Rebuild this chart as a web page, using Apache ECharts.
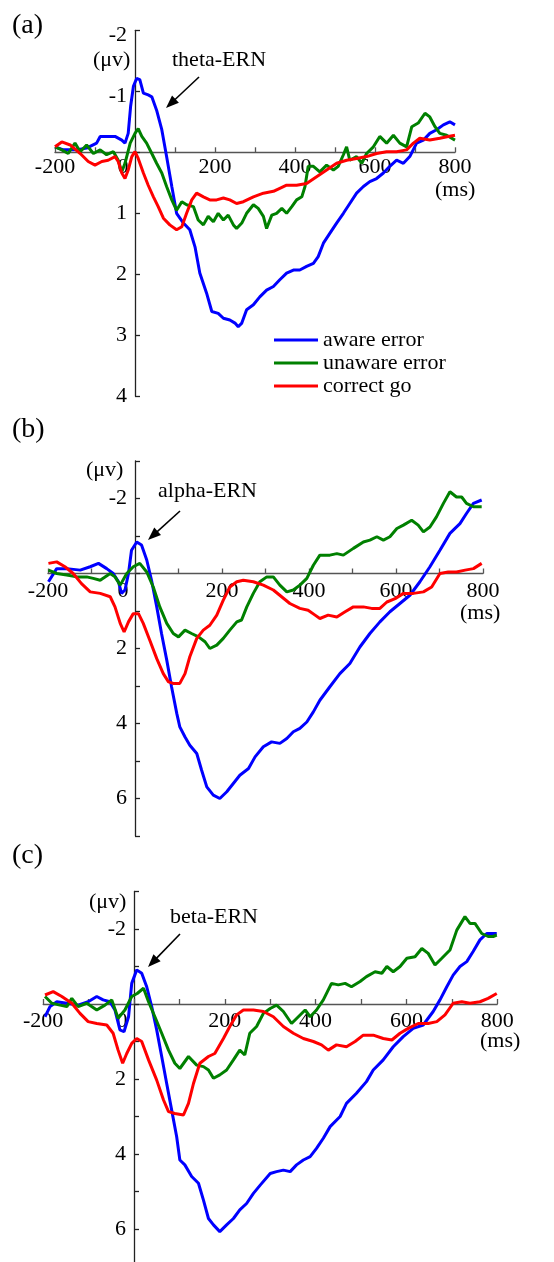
<!DOCTYPE html>
<html>
<head>
<meta charset="utf-8">
<script src="https://cdn.jsdelivr.net/npm/echarts@6/dist/echarts.min.js"></script>
<style>
html,body{margin:0;padding:0;background:#fff;}
#chart{width:554px;height:1262px;}
</style>
</head>
<body>
<div id="chart"></div>
<script>
// ---------- data (time ms, amplitude µV) ----------
const seriesNames = ['aware error', 'unaware error', 'correct go'];
const xTickLabels = [-200, 0, 200, 400, 600, 800];
const yTickLabelsA = [-2, -1, 1, 2, 3, 4];
const yTickLabelsBC = [-2, 2, 4, 6];

// Panel (a) theta
const thetaAware = [[-200,-0.09],[-179,-0.04],[-146,-0.04],[-121,-0.07],[-96,-0.15],[-87,-0.26],[-71,-0.26],[-50,-0.26],[-33,-0.2],[-25,-0.15],[-17,-0.31],[-11,-0.75],[-4,-1.08],[4,-1.21],[12,-1.19],[21,-0.97],[33,-0.94],[42,-0.91],[54,-0.69],[67,-0.37],[79,0.07],[92,0.56],[104,1.0],[121,1.16],[137,1.27],[150,1.55],[162,1.98],[179,2.31],[192,2.61],[208,2.64],[221,2.72],[237,2.75],[250,2.8],[258,2.86],[267,2.8],[279,2.58],[296,2.5],[312,2.37],[329,2.26],[346,2.2],[362,2.09],[379,1.98],[396,1.93],[412,1.93],[429,1.87],[446,1.82],[458,1.71],[471,1.49],[487,1.33],[504,1.16],[521,1.0],[537,0.84],[554,0.67],[571,0.56],[587,0.48],[604,0.43],[621,0.34],[637,0.23],[654,0.13],[671,0.18],[687,0.07],[704,-0.15],[721,-0.2],[737,-0.31],[754,-0.37],[771,-0.45],[787,-0.5],[800,-0.45]];
const thetaUnaware = [[-200,-0.09],[-183,-0.04],[-167,0.02],[-150,-0.15],[-137,-0.01],[-121,-0.12],[-104,0.02],[-87,-0.04],[-71,0.04],[-54,-0.01],[-42,0.13],[-33,0.32],[-25,0.18],[-12,-0.15],[0,-0.31],[8,-0.39],[17,-0.26],[29,-0.15],[42,0.02],[54,0.18],[67,0.34],[79,0.56],[92,0.78],[104,0.95],[117,0.81],[129,0.86],[146,0.89],[158,1.11],[171,1.19],[183,1.05],[196,1.14],[208,1.0],[221,1.11],[233,1.03],[246,1.19],[254,1.25],[267,1.16],[279,1.0],[296,0.86],[308,0.92],[321,1.05],[329,1.25],[342,1.03],[354,1.0],[367,0.92],[379,1.0],[392,0.89],[404,0.78],[417,0.73],[425,0.56],[433,0.23],[446,0.23],[462,0.32],[479,0.21],[496,0.29],[508,0.23],[521,0.04],[529,-0.09],[537,0.13],[554,0.07],[567,0.18],[579,0.02],[596,-0.09],[612,-0.26],[629,-0.15],[646,-0.28],[662,-0.15],[679,-0.09],[692,-0.42],[708,-0.48],[725,-0.64],[737,-0.58],[750,-0.42],[762,-0.31],[779,-0.28],[800,-0.2]];
const thetaCorrect = [[-200,-0.09],[-183,-0.17],[-162,-0.12],[-137,0.02],[-117,0.15],[-100,0.21],[-83,0.15],[-67,0.13],[-50,0.07],[-42,0.15],[-33,0.34],[-25,0.43],[-17,0.29],[-8,0.07],[0,-0.01],[8,0.1],[21,0.34],[33,0.54],[46,0.73],[58,0.89],[71,1.08],[87,1.19],[104,1.27],[117,1.22],[129,1.0],[142,0.78],[154,0.67],[171,0.73],[187,0.78],[204,0.78],[221,0.75],[237,0.78],[254,0.84],[271,0.81],[296,0.73],[321,0.67],[346,0.64],[362,0.59],[379,0.54],[404,0.54],[429,0.51],[454,0.4],[479,0.29],[504,0.18],[529,0.13],[554,0.1],[579,0.07],[604,0.02],[629,-0.01],[654,-0.01],[679,-0.04],[696,-0.15],[712,-0.23],[737,-0.2],[762,-0.23],[783,-0.26],[800,-0.28]];

// Panel (b) alpha
const alphaAware = [[-199,0.22],[-180,-0.13],[-157,-0.13],[-126,-0.09],[-103,-0.18],[-84,-0.27],[-65,-0.13],[-50,0],[-38,0.22],[-31,0.53],[-23,0.44],[-15,0],[-8,-0.62],[4,-0.84],[15,-0.76],[27,-0.36],[38,0.18],[50,0.89],[61,1.6],[73,2.31],[84,3.02],[96,3.73],[103,4.09],[115,4.36],[126,4.58],[142,4.8],[153,5.24],[165,5.69],[180,5.91],[195,6.0],[211,5.82],[226,5.6],[241,5.38],[261,5.2],[276,4.89],[295,4.62],[314,4.49],[333,4.53],[349,4.4],[364,4.22],[379,4.13],[395,3.96],[410,3.69],[425,3.38],[448,3.02],[471,2.67],[494,2.4],[517,1.96],[540,1.6],[563,1.29],[586,1.02],[609,0.8],[632,0.58],[655,0.22],[678,-0.18],[701,-0.62],[724,-1.07],[747,-1.33],[762,-1.6],[778,-1.87],[797,-1.96]];
const alphaUnaware = [[-199,-0.09],[-180,0],[-157,0.04],[-134,0.09],[-111,0.09],[-96,0.13],[-80,0.18],[-57,0],[-46,0.09],[-34,0.31],[-19,0],[-4,-0.18],[11,-0.27],[27,-0.04],[42,0.36],[57,0.89],[73,1.33],[88,1.6],[100,1.69],[115,1.51],[130,1.6],[146,1.69],[161,1.82],[172,2.0],[188,1.91],[203,1.73],[218,1.51],[234,1.29],[245,1.24],[257,0.89],[272,0.53],[287,0.22],[303,0.09],[318,0.09],[333,0.31],[349,0.49],[364,0.44],[379,0.31],[395,0.13],[410,-0.22],[425,-0.49],[448,-0.49],[464,-0.53],[479,-0.49],[502,-0.67],[525,-0.84],[540,-0.89],[556,-0.98],[571,-0.89],[586,-0.98],[602,-1.2],[617,-1.29],[636,-1.42],[651,-1.29],[663,-1.11],[678,-1.24],[693,-1.51],[709,-1.87],[724,-2.18],[739,-2.04],[751,-2.04],[762,-1.87],[778,-1.78],[797,-1.78]];
const alphaCorrect = [[-199,-0.27],[-180,-0.31],[-161,-0.18],[-142,0],[-123,0.27],[-103,0.49],[-80,0.53],[-57,0.62],[-46,0.89],[-34,1.33],[-25,1.56],[-15,1.29],[-4,1.07],[8,1.07],[19,1.33],[34,1.78],[50,2.27],[65,2.67],[77,2.89],[88,2.93],[103,2.93],[115,2.67],[126,2.22],[142,1.73],[157,1.51],[172,1.38],[188,1.11],[203,0.71],[218,0.36],[234,0.22],[249,0.18],[272,0.22],[295,0.31],[318,0.44],[337,0.62],[356,0.8],[379,0.93],[398,0.98],[414,1.11],[425,1.2],[444,1.11],[464,1.16],[483,1.02],[502,0.89],[525,0.89],[544,0.93],[563,0.93],[579,0.76],[598,0.67],[617,0.53],[640,0.53],[663,0.49],[682,0.36],[701,0],[720,-0.04],[739,-0.04],[759,-0.09],[778,-0.13],[797,-0.27]];

// Panel (c) beta
const betaAware = [[-196,0.34],[-185,0.07],[-170,-0.06],[-148,-0.02],[-123,0.03],[-101,-0.06],[-82,-0.2],[-68,-0.11],[-53,-0.06],[-42,0.16],[-31,0.69],[-22,0.74],[-12,0.34],[-5,-0.55],[6,-0.91],[17,-0.82],[28,-0.46],[39,0.07],[50,0.69],[61,1.4],[72,2.12],[83,2.83],[94,3.54],[101,4.16],[112,4.29],[127,4.6],[142,4.78],[153,5.23],[164,5.72],[175,5.89],[189,6.07],[204,5.89],[219,5.72],[233,5.49],[248,5.32],[263,5.05],[278,4.83],[300,4.52],[314,4.47],[329,4.43],[344,4.47],[358,4.29],[373,4.16],[388,4.07],[402,3.85],[417,3.58],[432,3.27],[454,3.0],[468,2.65],[490,2.38],[512,2.07],[527,1.76],[549,1.49],[571,1.14],[593,0.87],[615,0.65],[637,0.56],[659,0.2],[674,-0.11],[689,-0.46],[703,-0.77],[718,-1.0],[733,-1.13],[747,-1.4],[762,-1.71],[777,-1.88],[799,-1.88]];
const betaUnaware = [[-196,-0.2],[-181,-0.02],[-163,0.03],[-148,0.07],[-137,-0.15],[-123,0.07],[-104,-0.02],[-82,0.16],[-64,0.03],[-49,-0.11],[-35,0.38],[-20,0.16],[-5,-0.2],[7,-0.28],[21,-0.42],[32,-0.06],[46,0.34],[61,0.78],[76,1.23],[90,1.58],[101,1.72],[120,1.4],[138,1.63],[153,1.67],[164,1.76],[175,1.98],[189,1.89],[204,1.76],[219,1.49],[233,1.23],[244,1.36],[255,0.78],[270,0.6],[285,0.25],[300,0.12],[314,0.03],[329,0.2],[347,0.52],[362,0.34],[377,0.16],[388,0.34],[402,0.16],[417,-0.11],[435,-0.55],[450,-0.51],[465,-0.55],[479,-0.46],[498,-0.6],[512,-0.73],[531,-0.86],[546,-0.82],[557,-1.0],[571,-0.86],[586,-1.0],[601,-1.22],[619,-1.26],[634,-1.48],[648,-1.35],[663,-1.04],[678,-1.22],[696,-1.44],[711,-1.97],[729,-2.33],[740,-2.15],[751,-2.15],[766,-1.88],[780,-1.8],[791,-1.8],[799,-1.84]];
const betaCorrect = [[-196,-0.24],[-178,-0.33],[-159,-0.2],[-137,-0.02],[-119,0.25],[-101,0.47],[-82,0.52],[-60,0.56],[-46,0.78],[-35,1.23],[-25,1.58],[-16,1.32],[-5,1.05],[6,0.92],[17,1.0],[32,1.49],[50,2.03],[65,2.56],[76,2.87],[90,2.92],[109,2.96],[120,2.65],[131,2.12],[145,1.58],[164,1.4],[178,1.32],[197,0.92],[211,0.6],[226,0.29],[241,0.16],[263,0.16],[285,0.2],[307,0.34],[329,0.6],[351,0.78],[373,0.92],[395,1.0],[413,1.09],[428,1.23],[446,1.09],[468,1.14],[487,1.0],[505,0.83],[527,0.83],[549,0.92],[568,0.96],[586,0.78],[604,0.65],[626,0.52],[648,0.52],[667,0.47],[685,0.29],[703,-0.02],[722,-0.06],[740,-0.02],[762,-0.06],[780,-0.15],[799,-0.28]];

// ---------- styling / layout ----------
const FONT = '"Liberation Serif", "Times New Roman", serif';
const COLORS = ['#0000ff', '#008000', '#ff0000'];

const grids = [
  {left: 55, top: 30.3, width: 400, height: 366, outerBoundsMode: 'none', containLabel: false},
  {left: 48, top: 461, width: 435, height: 375, outerBoundsMode: 'none', containLabel: false},
  {left: 43.2, top: 891.5, width: 454, height: 375, outerBoundsMode: 'none', containLabel: false}
];
const xRange = [-200, 800];
const yRanges = [[-2, 4], [-3, 7], [-3, 7]];
const yLabelSets = [yTickLabelsA, yTickLabelsBC, yTickLabelsBC];
const yNegLabelDrop = [10, 0, 0];
const xLabelMargins = [4, 7, 6];
const panelData = [
  [thetaAware, thetaUnaware, thetaCorrect],
  [alphaAware, alphaUnaware, alphaCorrect],
  [betaAware, betaUnaware, betaCorrect]
];

const xAxisLineStyle = {color: '#555', width: 1.3};
const yAxisLineStyle = {color: '#222', width: 1.3};

// axes are moved onto the zero lines (axes cross at the origin), with labels following
const xAxes = grids.map((g, i) => {
  const r = yRanges[i];
  const zeroFromTop = (0 - r[0]) / (r[1] - r[0]) * g.height;
  return {
    gridIndex: i, type: 'value', min: xRange[0], max: xRange[1], interval: 100,
    position: 'bottom', offset: -(g.height - zeroFromTop),
    axisLine: {onZero: false, lineStyle: xAxisLineStyle},
    axisTick: {inside: true, length: 5, lineStyle: xAxisLineStyle},
    splitLine: {show: false},
    axisLabel: {
      margin: xLabelMargins[i], color: '#000', fontFamily: FONT, fontSize: 22,
      formatter: v => xTickLabels.indexOf(v) < 0 ? '' : (v === 0 ? '{z|0}' : String(v)),
      rich: {z: {fontFamily: FONT, fontSize: 22, color: '#000', padding: [0, 24, 0, 0]}}
    }
  };
});

const yAxes = grids.map((g, i) => {
  const zeroFromLeft = (0 - xRange[0]) / (xRange[1] - xRange[0]) * g.width;
  return {
    gridIndex: i, type: 'value', inverse: true,
    min: yRanges[i][0], max: yRanges[i][1], interval: 1,
    position: 'left', offset: -zeroFromLeft,
    axisLine: {onZero: false, lineStyle: yAxisLineStyle},
    axisTick: {inside: true, length: 5, lineStyle: yAxisLineStyle},
    splitLine: {show: false},
    axisLabel: {
      margin: 8, color: '#000', fontFamily: FONT, fontSize: 22,
      formatter: v => yLabelSets[i].indexOf(v) < 0 ? '' : (v < 0 && yNegLabelDrop[i] ? '{n|' + v + '}' : String(v)),
      rich: {n: {fontFamily: FONT, fontSize: 22, color: '#000', padding: [yNegLabelDrop[i], 0, 0, 0]}}
    }
  };
});

const series = [];
panelData.forEach((arrs, p) => {
  arrs.forEach((d, k) => {
    series.push({
      name: seriesNames[k], type: 'line', xAxisIndex: p, yAxisIndex: p,
      data: d, symbol: 'none', showSymbol: false, smooth: false,
      lineStyle: {color: COLORS[k], width: 3}, itemStyle: {color: COLORS[k]},
      emphasis: {disabled: true}, animation: false, z: 2 + k
    });
  });
});

// ---------- annotations ----------
function txt(text, x, y, size) {
  return {type: 'text', x: x, y: y, z: 50,
    style: {text: text, font: (size || 22) + 'px ' + FONT, fill: '#000', align: 'left', verticalAlign: 'middle'}};
}
function arrow(x1, y1, x2, y2) {
  const dx = x2 - x1, dy = y2 - y1, L = Math.hypot(dx, dy);
  const ux = dx / L, uy = dy / L, nx = -uy, ny = ux;
  const hl = 13, hw = 5;
  const bx = x2 - ux * hl, by = y2 - uy * hl;
  return [
    {type: 'line', z: 50, shape: {x1: x1, y1: y1, x2: bx + ux * 2, y2: by + uy * 2}, style: {stroke: '#000', lineWidth: 1.6}},
    {type: 'polygon', z: 50, shape: {points: [[x2, y2], [bx + nx * hw, by + ny * hw], [bx - nx * hw, by - ny * hw]]}, style: {fill: '#000'}}
  ];
}

const graphics = [
  txt('(a)', 12, 26, 28), txt('(μv)', 93, 60), txt('theta-ERN', 172, 60), txt('(ms)', 435, 190),
  txt('(b)', 12, 430, 28), txt('(μv)', 86, 470), txt('alpha-ERN', 158, 491), txt('(ms)', 460, 613),
  txt('(c)', 12, 856, 28), txt('(μv)', 89, 902), txt('beta-ERN', 170, 917), txt('(ms)', 480, 1041)
].concat(arrow(199, 77, 166, 108), arrow(180, 511, 148, 540), arrow(180, 934, 148, 967));

const chart = echarts.init(document.getElementById('chart'), null, {renderer: 'canvas'});
chart.setOption({
  animation: false,
  backgroundColor: '#fff',
  grid: grids,
  xAxis: xAxes,
  yAxis: yAxes,
  legend: {
    data: seriesNames, orient: 'vertical', left: 274, top: 329,
    icon: 'rect', itemWidth: 44, itemHeight: 3, itemGap: 1, padding: 0,
    selectedMode: false,
    textStyle: {fontFamily: FONT, fontSize: 22, color: '#000', lineHeight: 22}
  },
  series: series,
  graphic: graphics
});
</script>
</body>
</html>
